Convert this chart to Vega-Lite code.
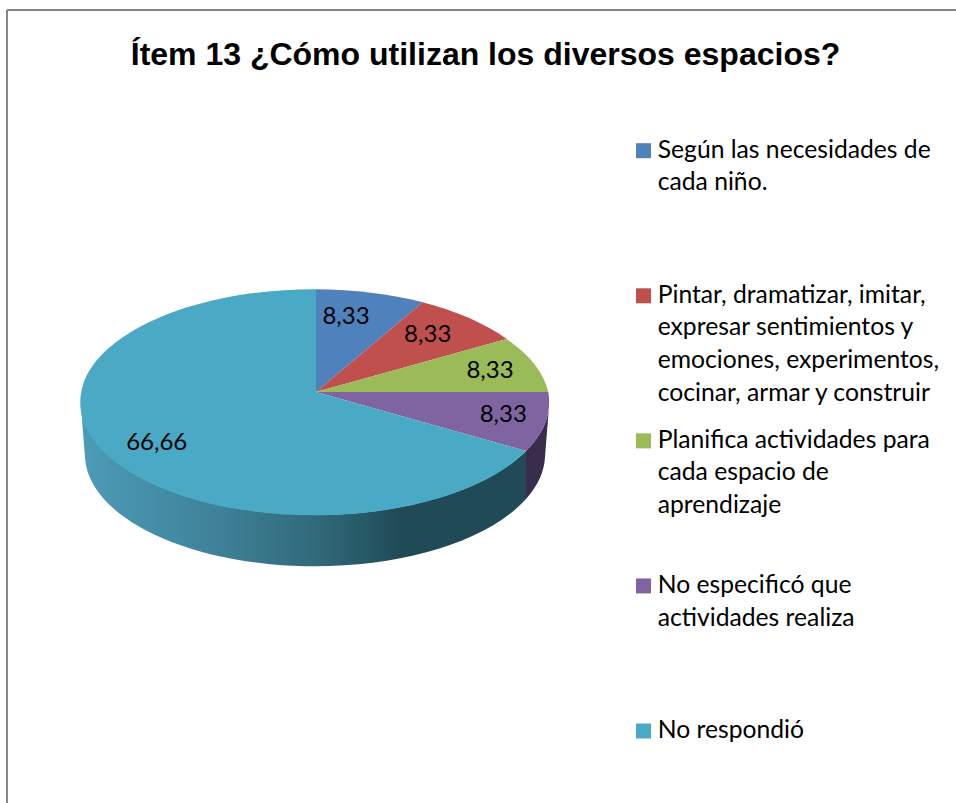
{"$schema":"https://vega.github.io/schema/vega-lite/v6.json","width":949,"height":793,"autosize":"none","padding":{"left":7,"top":10,"right":0,"bottom":0},"background":"white","view":{"stroke":null},"config":{"axis":{"domain":false,"grid":false,"ticks":false,"labels":false,"title":null}},"title":{"text":"Ítem 13 ¿Cómo utilizan los diversos espacios?","font":"Liberation Sans","fontSize":32,"fontWeight":"bold","color":"black","anchor":"middle","frame":"group","orient":"top","baseline":"alphabetic","offset":-55,"dy":33,"dx":4},"data":{"values":[{"categoria":"Según las necesidades de cada niño.","lineas":"Según las necesidades de|cada niño.","valor":8.33,"texto":"8,33"},{"categoria":"Pintar, dramatizar, imitar, expresar sentimientos y emociones, experimentos, cocinar, armar y construir","lineas":"Pintar, dramatizar, imitar,|expresar sentimientos y|emociones, experimentos,|cocinar, armar y construir","valor":8.33,"texto":"8,33"},{"categoria":"Planifica actividades para cada espacio de aprendizaje","lineas":"Planifica actividades para|cada espacio de|aprendizaje","valor":8.33,"texto":"8,33"},{"categoria":"No especificó que actividades realiza","lineas":"No especificó que|actividades realiza","valor":8.33,"texto":"8,33"},{"categoria":"No respondió","lineas":"No respondió","valor":66.66,"texto":"66,66"}]},"resolve":{"scale":{"y":"independent","x":"independent","color":"independent","shape":"independent"}},"layer":[{"mark":{"type":"rule","color":"#868686","strokeWidth":2},"encoding":{"x":{"datum":0,"type":"quantitative","axis":null,"scale":{"domain":[0,949]}}}},{"mark":{"type":"rule","color":"#868686","strokeWidth":2},"encoding":{"y":{"datum":0,"type":"quantitative","axis":null,"scale":{"domain":[0,793],"reverse":true}}}},{"transform":[{"filter":"datum.valor > 50"}],"mark":{"type":"point","filled":true,"opacity":1,"size":4,"shape":"M-235.3,10.5 A234.3,113 0 0 0 210,59 L210,107 A230,111.7 0 0 1 -231,65 Z","fill":{"gradient":"linear","x1":0,"x2":1,"y1":0,"y2":0,"stops":[{"offset":0,"color":"#4c9cb8"},{"offset":0.3,"color":"#3f8299"},{"offset":0.55,"color":"#2f6777"},{"offset":0.72,"color":"#1f4a56"},{"offset":1,"color":"#1f4a56"}]}},"encoding":{"x":{"datum":309,"type":"quantitative","axis":null,"scale":{"domain":[0,949]}},"y":{"datum":382,"type":"quantitative","axis":null,"scale":{"domain":[0,793],"reverse":true}}}},{"transform":[{"filter":"datum.categoria == 'No especificó que actividades realiza'"}],"mark":{"type":"point","filled":true,"opacity":1,"size":4,"shape":"M210,59 A234.3,113 0 0 0 233.3,10.5 L229,65 A230,111.7 0 0 1 210,107 Z","fill":"#3a2c4c"},"encoding":{"x":{"datum":309,"type":"quantitative","axis":null,"scale":{"domain":[0,949]}},"y":{"datum":382,"type":"quantitative","axis":null,"scale":{"domain":[0,793],"reverse":true}}}},{"mark":{"type":"point","filled":true,"opacity":1,"size":4},"encoding":{"x":{"datum":309,"type":"quantitative","axis":null,"scale":{"domain":[0,949]}},"y":{"datum":382,"type":"quantitative","axis":null,"scale":{"domain":[0,793],"reverse":true}},"shape":{"field":"categoria","type":"nominal","legend":null,"scale":{"domain":["Según las necesidades de cada niño.","Pintar, dramatizar, imitar, expresar sentimientos y emociones, experimentos, cocinar, armar y construir","Planifica actividades para cada espacio de aprendizaje","No especificó que actividades realiza","No respondió"],"range":["M0,0 L0,-102.7 A234.3,113 0 0 1 106.7,-89.7 Z","M0,0 L106.7,-89.7 A234.3,113 0 0 1 190.7,-53 Z","M0,0 L190.7,-53 A234.3,113 0 0 1 232.3,0 Z","M0,0 L232.3,0 A234.3,113 0 0 1 210,59 Z","M0,0 L210,59 A234.3,113 0 1 1 0,-102.7 Z"]}},"color":{"field":"categoria","type":"nominal","legend":null,"scale":{"domain":["Según las necesidades de cada niño.","Pintar, dramatizar, imitar, expresar sentimientos y emociones, experimentos, cocinar, armar y construir","Planifica actividades para cada espacio de aprendizaje","No especificó que actividades realiza","No respondió"],"range":["#4f81bd","#c0504d","#9bbb59","#8064a2","#4aa9c5"]}}}},{"mark":{"type":"point","filled":true,"opacity":1,"shape":"square","size":225},"encoding":{"x":{"datum":636.5,"type":"quantitative","axis":null,"scale":{"domain":[0,949]}},"y":{"field":"categoria","type":"nominal","axis":null,"sort":null,"scale":{"type":"point","padding":0,"domain":["Según las necesidades de cada niño.","Pintar, dramatizar, imitar, expresar sentimientos y emociones, experimentos, cocinar, armar y construir","Planifica actividades para cada espacio de aprendizaje","No especificó que actividades realiza","No respondió"],"range":[140.7,721]}},"color":{"field":"categoria","type":"nominal","legend":null,"scale":{"domain":["Según las necesidades de cada niño.","Pintar, dramatizar, imitar, expresar sentimientos y emociones, experimentos, cocinar, armar y construir","Planifica actividades para cada espacio de aprendizaje","No especificó que actividades realiza","No respondió"],"range":["#4f81bd","#c0504d","#9bbb59","#8064a2","#4aa9c5"]}}}},{"mark":{"type":"text","font":"Lato","fontSize":24.7,"align":"left","baseline":"alphabetic","dy":7,"lineBreak":"|","lineHeight":32.6,"color":"black"},"encoding":{"text":{"field":"lineas"},"x":{"datum":650.7,"type":"quantitative","axis":null,"scale":{"domain":[0,949]}},"y":{"field":"categoria","type":"nominal","axis":null,"sort":null,"scale":{"type":"point","padding":0,"domain":["Según las necesidades de cada niño.","Pintar, dramatizar, imitar, expresar sentimientos y emociones, experimentos, cocinar, armar y construir","Planifica actividades para cada espacio de aprendizaje","No especificó que actividades realiza","No respondió"],"range":[140.7,721]}}}},{"transform":[{"filter":"datum.categoria == 'Según las necesidades de cada niño.'"}],"mark":{"type":"text","font":"Lato","fontSize":24,"color":"black"},"encoding":{"text":{"field":"texto"},"x":{"datum":339,"type":"quantitative","axis":null,"scale":{"domain":[0,949]}},"y":{"datum":306.7,"type":"quantitative","axis":null,"scale":{"domain":[0,793],"reverse":true}}}},{"transform":[{"filter":"indexof(datum.categoria,'Pintar') == 0"}],"mark":{"type":"text","font":"Lato","fontSize":24,"color":"black"},"encoding":{"text":{"field":"texto"},"x":{"datum":420.7,"type":"quantitative","axis":null,"scale":{"domain":[0,949]}},"y":{"datum":325,"type":"quantitative","axis":null,"scale":{"domain":[0,793],"reverse":true}}}},{"transform":[{"filter":"indexof(datum.categoria,'Planifica') == 0"}],"mark":{"type":"text","font":"Lato","fontSize":24,"color":"black"},"encoding":{"text":{"field":"texto"},"x":{"datum":483,"type":"quantitative","axis":null,"scale":{"domain":[0,949]}},"y":{"datum":361,"type":"quantitative","axis":null,"scale":{"domain":[0,793],"reverse":true}}}},{"transform":[{"filter":"indexof(datum.categoria,'No especific') == 0"}],"mark":{"type":"text","font":"Lato","fontSize":24,"color":"black"},"encoding":{"text":{"field":"texto"},"x":{"datum":496.3,"type":"quantitative","axis":null,"scale":{"domain":[0,949]}},"y":{"datum":405,"type":"quantitative","axis":null,"scale":{"domain":[0,793],"reverse":true}}}},{"transform":[{"filter":"datum.valor > 50"}],"mark":{"type":"text","font":"Lato","fontSize":24,"color":"black"},"encoding":{"text":{"field":"texto"},"x":{"datum":149.7,"type":"quantitative","axis":null,"scale":{"domain":[0,949]}},"y":{"datum":432.7,"type":"quantitative","axis":null,"scale":{"domain":[0,793],"reverse":true}}}}]}
